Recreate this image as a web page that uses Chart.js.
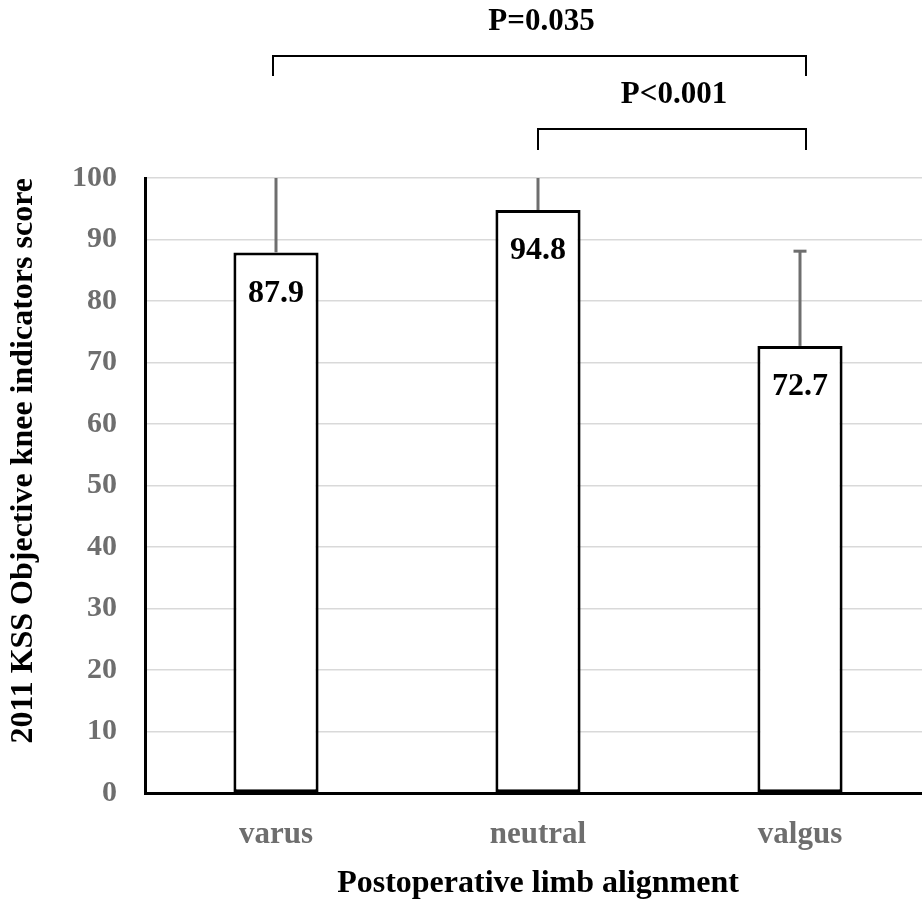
<!DOCTYPE html>
<html>
<head>
<meta charset="utf-8">
<script src="https://cdn.jsdelivr.net/npm/chart.js@4"></script>
<style>
  html, body { margin: 0; padding: 0; background: #fff; overflow: hidden; }
  #wrap { width: 922px; height: 903px; overflow: hidden; }
</style>
</head>
<body>
<div id="wrap"><canvas id="myChart" width="945" height="903"></canvas></div>
<script>
// data
var categories = ['varus', 'neutral', 'valgus'];
var means = [87.9, 94.8, 72.7];
var sdUpper = [13.5, 7.5, 15.4];   // upper error bars, clipped at 100
var yTicks = [0, 10, 20, 30, 40, 50, 60, 70, 80, 90, 100];
var comparisons = [
    { from: 0, to: 2, label: 'P=0.035', y: 56, drop: 20, textY: 22 },
    { from: 1, to: 2, label: 'P<0.001', y: 129, drop: 21, textY: 95 }
];

var serif = '"Liberation Serif", "Times New Roman", serif';

// error bars + value labels inside the bars
var barExtras = {
    id: 'barExtras',
    afterDatasetsDraw: function(chart) {
        var ctx = chart.ctx;
        var yScale = chart.scales.y;
        var area = chart.chartArea;
        var bars = chart.getDatasetMeta(0).data;
        ctx.save();
        bars.forEach(function(bar, i) {
            var top = yScale.getPixelForValue(means[i] + sdUpper[i]);
            var clipped = top < area.top;
            if (clipped) top = area.top;
            ctx.strokeStyle = '#6e6e6e';
            ctx.lineWidth = 3;
            ctx.beginPath();
            ctx.moveTo(bar.x, bar.y);
            ctx.lineTo(bar.x, top);
            ctx.stroke();
            if (!clipped) {
                ctx.beginPath();
                ctx.moveTo(bar.x - 6.5, top);
                ctx.lineTo(bar.x + 6.5, top);
                ctx.stroke();
            }
            ctx.fillStyle = '#000';
            ctx.font = 'bold 32px ' + serif;
            ctx.textAlign = 'center';
            ctx.textBaseline = 'middle';
            ctx.fillText(means[i].toFixed(1), bar.x, bar.y + 41);
        });
        ctx.restore();
    }
};

// significance brackets above the plot
var brackets = {
    id: 'brackets',
    afterDraw: function(chart) {
        var ctx = chart.ctx;
        var xScale = chart.scales.x;
        ctx.save();
        comparisons.forEach(function(c) {
            var x1 = xScale.getPixelForValue(c.from) - (c.from === 0 ? 3 : 0);
            var x2 = xScale.getPixelForValue(c.to) + 6;
            ctx.strokeStyle = '#000';
            ctx.lineWidth = 2;
            ctx.beginPath();
            ctx.moveTo(x1, c.y + c.drop);
            ctx.lineTo(x1, c.y);
            ctx.lineTo(x2, c.y);
            ctx.lineTo(x2, c.y + c.drop);
            ctx.stroke();
            ctx.fillStyle = '#000';
            ctx.font = 'bold 31px ' + serif;
            ctx.textAlign = 'center';
            ctx.textBaseline = 'middle';
            ctx.fillText(c.label, (x1 + x2) / 2 + 2, c.textY);
        });
        ctx.restore();
    }
};

function createChart() {
    var ctx = document.getElementById('myChart').getContext('2d');
    new Chart(ctx, {
        type: 'bar',
        data: {
            labels: categories,
            datasets: [{
                data: means,
                backgroundColor: '#ffffff',
                borderColor: '#000000',
                borderWidth: 3,
                borderSkipped: false,
                categoryPercentage: 1,
                barPercentage: 0.325
            }]
        },
        options: {
            responsive: false,
            animation: false,
            layout: { padding: { top: 178, right: 14, left: 0, bottom: 0 } },
            plugins: {
                legend: { display: false },
                tooltip: { enabled: false }
            },
            scales: {
                x: {
                    grid: { display: false, drawTicks: false },
                    border: { color: '#000', width: 3 },
                    ticks: {
                        color: '#6e6e6e',
                        padding: 23,
                        font: { family: serif, size: 31, weight: 'bold' }
                    },
                    title: {
                        display: true,
                        text: 'Postoperative limb alignment',
                        color: '#000',
                        padding: { bottom: 0 },
                        font: { family: serif, size: 32, weight: 'bold' }
                    },
                    afterFit: function(scale) { scale.height = 110; }
                },
                y: {
                    min: 0,
                    max: 100,
                    afterBuildTicks: function(scale) {
                        scale.ticks = yTicks.map(function(v) { return { value: v }; });
                    },
                    grid: { color: '#d9d9d9', lineWidth: 1.5, drawTicks: false },
                    border: { color: '#000', width: 3 },
                    ticks: {
                        color: '#6e6e6e',
                        padding: 28,
                        font: { family: serif, size: 30, weight: 'bold' }
                    },
                    title: {
                        display: true,
                        text: '2011 KSS Objective knee indicators score',
                        color: '#000',
                        align: 'end',
                        padding: { top: 5 },
                        font: { family: serif, size: 32, weight: 'bold' }
                    },
                    afterFit: function(scale) { scale.width = 145; }
                }
            }
        },
        plugins: [barExtras, brackets]
    });
}

document.addEventListener('DOMContentLoaded', function() {
    createChart();
});
</script>
</body>
</html>
